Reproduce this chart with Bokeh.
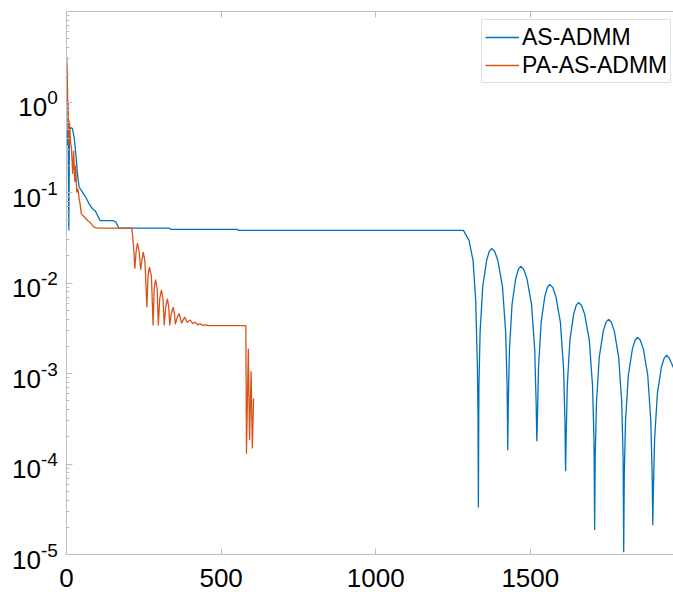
from bokeh.plotting import figure
from bokeh.layouts import row, column
from bokeh.models import (Range1d, LinearAxis, FixedTicker, Legend, LegendItem,
                          CustomJSTickFormatter, ColumnDataSource)
from bokeh.core.properties import value
from bokeh.embed import file_html
from bokeh.resources import INLINE

# ---------------- data ----------------
as_admm_x = [0, 1, 2, 3.5, 5.5, 7.5, 9.5, 13, 19, 24.6, 30, 35.5, 40.8, 51.7, 62, 73, 84, 92.5,
             100, 108.6, 150, 160, 169, 332, 336, 553, 557, 1283.6, 1301.7, 1314.7, 1323.3,
             1328.8, 1330.8, 1332,
             1333.7, 1337.6, 1346.2, 1358.7, 1367.3, 1375, 1384.4, 1394.8, 1409.8, 1420.2, 1424.9, 1427,
             1428.7, 1432.5, 1440.9, 1453.0, 1461.4, 1469, 1478.4, 1488.8, 1503.8, 1514.2, 1518.9, 1521,
             1522.7, 1526.5, 1534.9, 1547.0, 1555.4, 1563, 1572.2, 1582.4, 1597.2, 1607.4, 1612.0, 1614,
             1615.7, 1619.5, 1627.9, 1640.0, 1648.4, 1656, 1665.4, 1675.8, 1690.8, 1701.2, 1705.9, 1708,
             1709.8, 1713.9, 1722.9, 1735.9, 1744.9, 1753, 1761.8, 1771.6, 1785.8, 1795.6, 1800.0, 1802,
             1803.8, 1807.9, 1816.9, 1829.9, 1838.9, 1847, 1855.8, 1865.6, 1879.8, 1889.6, 1894.0, 1896,
             1897.8, 1901.9, 1910.9, 1923.9, 1932.9, 1941, 1949, 1955, 1964]
as_admm_y = [2.2, 0.9, 0.33, 0.5, 0.45, 0.038, 0.48, 0.52, 0.51, 0.41, 0.27, 0.16, 0.115, 0.101,
             0.089, 0.075, 0.066, 0.063, 0.056, 0.049, 0.049, 0.047, 0.0405, 0.0405, 0.0391,
             0.0391, 0.0381, 0.0381, 0.0296, 0.0178, 0.0065, 0.00118, 3.5e-4, 3.3e-5,
             7.2e-4, 2.9e-3, 9.2e-3, 0.0178, 0.0224, 0.0241, 0.0224, 0.0178, 9.2e-3, 2.9e-3, 7.2e-4, 1.42e-4,
             4.6e-4, 1.84e-3, 5.8e-3, 0.0113, 0.0142, 0.0153, 0.0142, 0.0113, 5.8e-3, 1.84e-3, 4.6e-4, 1.78e-4,
             2.9e-4, 1.16e-3, 3.67e-3, 7.15e-3, 0.00898, 0.00966, 0.00898, 7.15e-3, 3.67e-3, 1.16e-3, 2.9e-4, 8.3e-5,
             1.83e-4, 7.3e-4, 2.32e-3, 4.51e-3, 0.00567, 0.0061, 0.00567, 4.51e-3, 2.32e-3, 7.3e-4, 1.83e-4, 1.86e-5,
             1.19e-4, 4.76e-4, 1.51e-3, 2.94e-3, 0.00369, 0.00397, 0.00369, 2.94e-3, 1.51e-3, 4.76e-4, 1.19e-4, 1.06e-5,
             7.5e-5, 3.0e-4, 9.5e-4, 1.86e-3, 0.00233, 0.00251, 0.00233, 1.86e-3, 9.5e-4, 3.0e-4, 7.5e-5, 2.1e-5,
             4.8e-5, 1.9e-4, 6.0e-4, 1.18e-3, 0.00148, 0.00159, 0.00148, 0.00133, 0.00114]

pa_as_admm_x = [0, 2, 4, 5.5, 7, 9, 11, 13, 16, 20, 23, 27, 30, 33, 37, 41, 44, 48, 57, 68, 76,
                84, 89, 100, 211, 214, 218, 221, 225, 229.5, 235, 240, 243.6, 248, 253.5, 260,
                263.6, 268, 274.6, 280, 283.6, 288, 293, 297, 301.5, 307, 312, 316, 320.7, 326.5,
                330.6, 334, 339, 345, 348.9, 352, 357.4, 364, 368.4, 372, 382, 390, 400, 408,
                416, 424, 432, 440, 450, 460, 580, 582, 588, 592, 597, 601, 605]
pa_as_admm_y = [3.2, 2.4, 0.95, 1.0, 0.33, 0.62, 0.5, 0.36, 0.31, 0.16, 0.29, 0.13, 0.2, 0.1,
                0.11, 0.085, 0.075, 0.058, 0.054, 0.049, 0.047, 0.0433, 0.0414, 0.0405, 0.0405,
                0.033, 0.022, 0.0144, 0.022, 0.0276, 0.022, 0.0140, 0.0176, 0.022, 0.0176, 0.0054,
                0.012, 0.015, 0.012, 0.0034, 0.0087, 0.0109, 0.0087, 0.0034, 0.0067, 0.0084,
                0.0067, 0.0034, 0.0054, 0.0067, 0.0054, 0.0034, 0.0046, 0.0054, 0.0046, 0.0035,
                0.0041, 0.0046, 0.0041, 0.0036, 0.0042, 0.00368, 0.0039, 0.00355, 0.0037,
                0.00345, 0.00355, 0.0034, 0.00345, 0.00338, 0.00338, 1.3e-4, 0.00188, 1.83e-4,
                0.00106, 1.48e-4, 5.3e-4]

series_names = ["AS-ADMM", "PA-AS-ADMM"]
x_ticks = [0, 500, 1000, 1500]
x_tick_labels = ["0", "500", "1000", "1500"]
y_exponents = [-5, -4, -3, -2, -1, 0]
y_minor_mantissas = [2, 3, 4, 5, 6, 7, 8, 9]

# ---------------- geometry & styling ----------------
FONT = "Liberation Sans"
BLUE = "#0072BD"
RED = "#D95319"
AXIS_GRAY = "#bdbdbd"

TOTAL_W, TOTAL_H = 673, 592
LEFT_W = 58            # strip holding the y tick labels
MAIN_W = TOTAL_W - LEFT_W
MAIN_H = 556           # main plot (frame bottom at 554)
BOTTOM_H = TOTAL_H - MAIN_H   # strip holding the x tick labels
BORDER_L = 8
BORDER_T = 11
BORDER_B = 2
X_MAX = 1963
Y_LO_EXP, Y_HI_EXP = -5, 1
frame_w = MAIN_W - BORDER_L
frame_h = MAIN_H - BORDER_T - BORDER_B
decade_px = frame_h / (Y_HI_EXP - Y_LO_EXP)
x_px = frame_w / X_MAX

p = figure(width=MAIN_W, height=MAIN_H, y_axis_type="log",
           x_range=Range1d(0, X_MAX), y_range=Range1d(10.0 ** Y_LO_EXP, 10.0 ** Y_HI_EXP),
           output_backend="svg", toolbar_location=None, frame_align=False,
           min_border_left=BORDER_L, min_border_right=0,
           min_border_top=BORDER_T, min_border_bottom=BORDER_B)
p.grid.visible = False
p.outline_line_color = None

r1 = p.line(as_admm_x, as_admm_y, line_color=BLUE, line_width=1.3)
r2 = p.line(pa_as_admm_x, pa_as_admm_y, line_color=RED, line_width=1.3)

empty = CustomJSTickFormatter(code="return ''")

# x axis (below) -- labels drawn in the strip underneath
xa = p.xaxis[0]
xa.ticker = FixedTicker(ticks=x_ticks)
xa.formatter = empty
xa.major_label_text_font_size = "1px"
xa.major_label_standoff = 0
xa.major_tick_in = 6
xa.major_tick_out = 0
xa.minor_tick_in = 0
xa.minor_tick_out = 0
xa.axis_line_color = AXIS_GRAY
xa.major_tick_line_color = AXIS_GRAY

# top axis (box line with ticks)
top = LinearAxis(ticker=FixedTicker(ticks=x_ticks), formatter=empty,
                 major_tick_in=6, major_tick_out=0, minor_tick_in=0, minor_tick_out=0,
                 axis_line_color=AXIS_GRAY, major_tick_line_color=AXIS_GRAY,
                 major_label_standoff=0, major_label_text_font_size="1px")
p.add_layout(top, "above")

# y axis (log)
major_y = [10.0 ** e for e in y_exponents]
minor_y = [m * 10.0 ** e for e in range(Y_LO_EXP, Y_HI_EXP) for m in y_minor_mantissas]
ya = p.yaxis[0]
ya.ticker = FixedTicker(ticks=major_y, minor_ticks=minor_y)
ya.formatter = empty
ya.major_label_text_font_size = "1px"
ya.major_label_standoff = 0
ya.major_tick_in = 6
ya.major_tick_out = 0
ya.minor_tick_in = 3
ya.minor_tick_out = 0
ya.axis_line_color = AXIS_GRAY
ya.major_tick_line_color = AXIS_GRAY
ya.minor_tick_line_color = AXIS_GRAY

legend = Legend(items=[LegendItem(label=series_names[0], renderers=[r1]),
                       LegendItem(label=series_names[1], renderers=[r2])],
                location=(415, frame_h - 72))
legend.label_text_font = FONT
legend.label_text_font_size = "23px"
legend.label_text_color = "black"
legend.glyph_width = 34
legend.glyph_height = 28
legend.label_height = 28
legend.label_standoff = 3
legend.padding = 3
legend.spacing = 0
legend.margin = 0
legend.border_line_color = AXIS_GRAY
legend.border_line_width = 1
legend.background_fill_alpha = 1
p.add_layout(legend)

# ---------------- y tick labels strip ("10" with superscript exponent) ----------------
left = figure(width=LEFT_W, height=TOTAL_H, y_axis_type="log",
              x_range=Range1d(0, LEFT_W),
              y_range=Range1d(10.0 ** (Y_LO_EXP - (TOTAL_H - MAIN_H + BORDER_B) / decade_px),
                              10.0 ** (Y_HI_EXP + BORDER_T / decade_px)),
              x_axis_location=None, y_axis_location=None, frame_align=False,
              output_backend="svg", toolbar_location=None,
              min_border_left=0, min_border_right=0, min_border_top=0, min_border_bottom=0)
left.grid.visible = False
left.outline_line_color = None

EXP_SIZE = 19
char_w = {"-": 0.333, "0": 0.556, "1": 0.556, "2": 0.556, "3": 0.556, "4": 0.556, "5": 0.556}
exp_text = [str(e) for e in y_exponents]
exp_w = [sum(char_w[c] for c in s) * EXP_SIZE for s in exp_text]
RIGHT_PAD = 0.7
lab = ColumnDataSource(dict(
    x=[LEFT_W] * len(major_y), y=major_y,
    base=["10"] * len(major_y), exp=exp_text,
    base_dx=[-RIGHT_PAD - w for w in exp_w],
))
left.text(x="x", y="y", text="base", source=lab, x_offset="base_dx", y_offset=5,
          text_align="right", text_baseline="middle", text_font=value(FONT),
          text_font_size=value("26px"), text_color="black")
left.text(x="x", y="y", text="exp", source=lab, x_offset=-RIGHT_PAD, y_offset=-4.5,
          text_align="right", text_baseline="middle", text_font=value(FONT),
          text_font_size=value(f"{EXP_SIZE}px"), text_color="black")

# ---------------- x tick labels strip ----------------
bottom = figure(width=MAIN_W, height=BOTTOM_H,
                x_range=Range1d(-BORDER_L / x_px, X_MAX), y_range=Range1d(0, 1),
                x_axis_location=None, y_axis_location=None, frame_align=False,
                output_backend="svg", toolbar_location=None,
                min_border_left=0, min_border_right=0, min_border_top=0, min_border_bottom=0)
bottom.grid.visible = False
bottom.outline_line_color = None
xlab = ColumnDataSource(dict(x=x_ticks, y=[1] * len(x_ticks), text=x_tick_labels))
bottom.text(x="x", y="y", text="text", source=xlab, y_offset=BORDER_B + 10,
            text_align="center", text_baseline="top", text_font=value(FONT),
            text_font_size=value("26px"), text_color="black")

layout = row(left, column(p, bottom, spacing=0), spacing=0)
open("out.html", "w").write(file_html(layout, INLINE))
